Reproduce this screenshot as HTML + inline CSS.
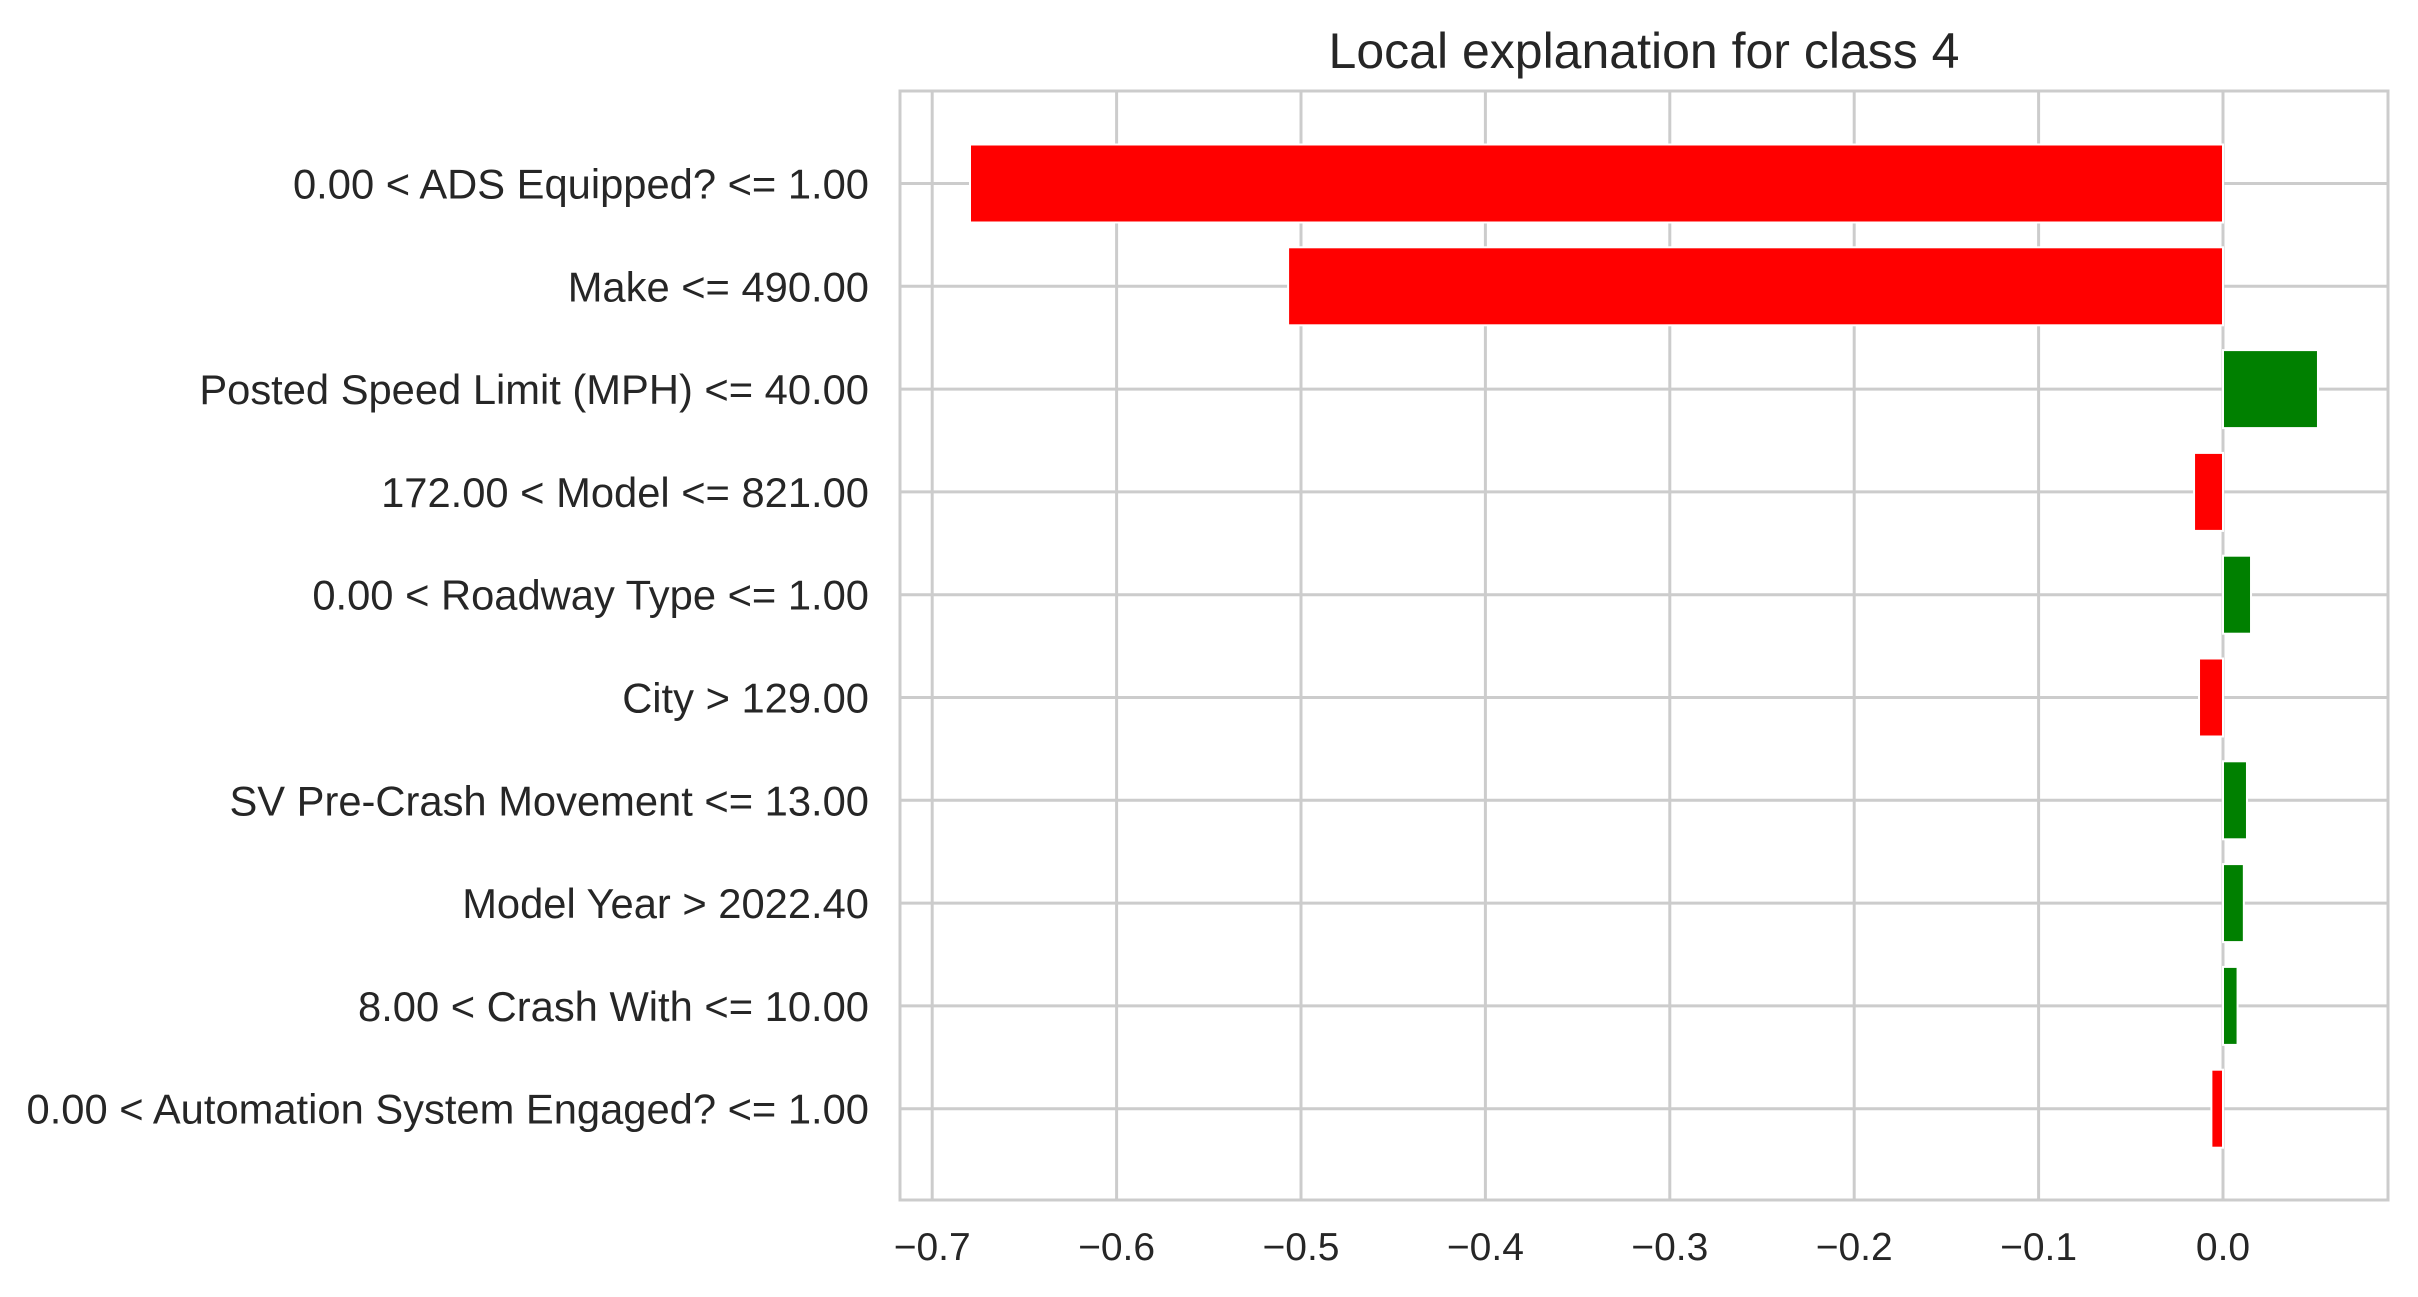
<!DOCTYPE html>
<html><head><meta charset="utf-8"><style>
html,body{margin:0;padding:0;background:#fff;}
svg{display:block;font-family:"Liberation Sans",Arial,sans-serif;}
</style></head><body>
<svg id="chart" width="2418" height="1297" viewBox="0 0 2418 1297" xmlns="http://www.w3.org/2000/svg">
<text x="1644" y="68" font-size="50" fill="#262626" text-anchor="middle">Local explanation for class 4</text>
<g id="grid"></g><g id="bars"></g><g id="labels"></g><g id="ticks"></g>
<rect x="900" y="91" width="1488" height="1109" fill="none" stroke="#cccccc" stroke-width="3"/>
</svg>
<script>
const features = ["0.00 < ADS Equipped? <= 1.00","Make <= 490.00","Posted Speed Limit (MPH) <= 40.00","172.00 < Model <= 821.00","0.00 < Roadway Type <= 1.00","City > 129.00","SV Pre-Crash Movement <= 13.00","Model Year > 2022.40","8.00 < Crash With <= 10.00","0.00 < Automation System Engaged? <= 1.00"];
const weights = [-0.6795,-0.507,0.0515,-0.0157,0.0152,-0.013,0.013,0.0113,0.0079,-0.0063];
const xTicks = [-0.7,-0.6,-0.5,-0.4,-0.3,-0.2,-0.1,0.0];
const tickLabels = ["\u22120.7","\u22120.6","\u22120.5","\u22120.4","\u22120.3","\u22120.2","\u22120.1","0.0"];
const NS="http://www.w3.org/2000/svg";
const x = v => 2223 + v*1844;
const y = i => 183.5 + i*102.8;
const barH = 78;
function mk(tag, attrs, parent){const e=document.createElementNS(NS,tag);for(const k in attrs)e.setAttribute(k,attrs[k]);document.getElementById(parent).appendChild(e);return e;}
xTicks.forEach((t,i)=>{
  const l=mk('line',{x1:x(t),x2:x(t),y1:91,y2:1200,stroke:'#cccccc','stroke-width':3},'grid');
  
  
  const tx=mk('text',{x:x(t),y:1260,'font-size':39,fill:'#262626','text-anchor':'middle'},'ticks');
  tx.textContent=tickLabels[i];
  
  
});
features.forEach((f,i)=>{
  const l=mk('line',{x1:900,x2:2388,y1:y(i),y2:y(i),stroke:'#cccccc','stroke-width':3},'grid');
  
  
  const w=weights[i];
  const r=mk('rect',{x:Math.min(x(0),x(w)),y:y(i)-barH/2,width:Math.abs(x(w)-x(0)),height:barH,fill:w<0?'#ff0000':'#008000',stroke:'#ffffff','stroke-width':2},'bars');
  
  
  const t=mk('text',{x:869,y:y(i)+15,'font-size':41.7,fill:'#262626','text-anchor':'end'},'labels');
  t.textContent=f;
  
  
});
</script>
</body></html>
